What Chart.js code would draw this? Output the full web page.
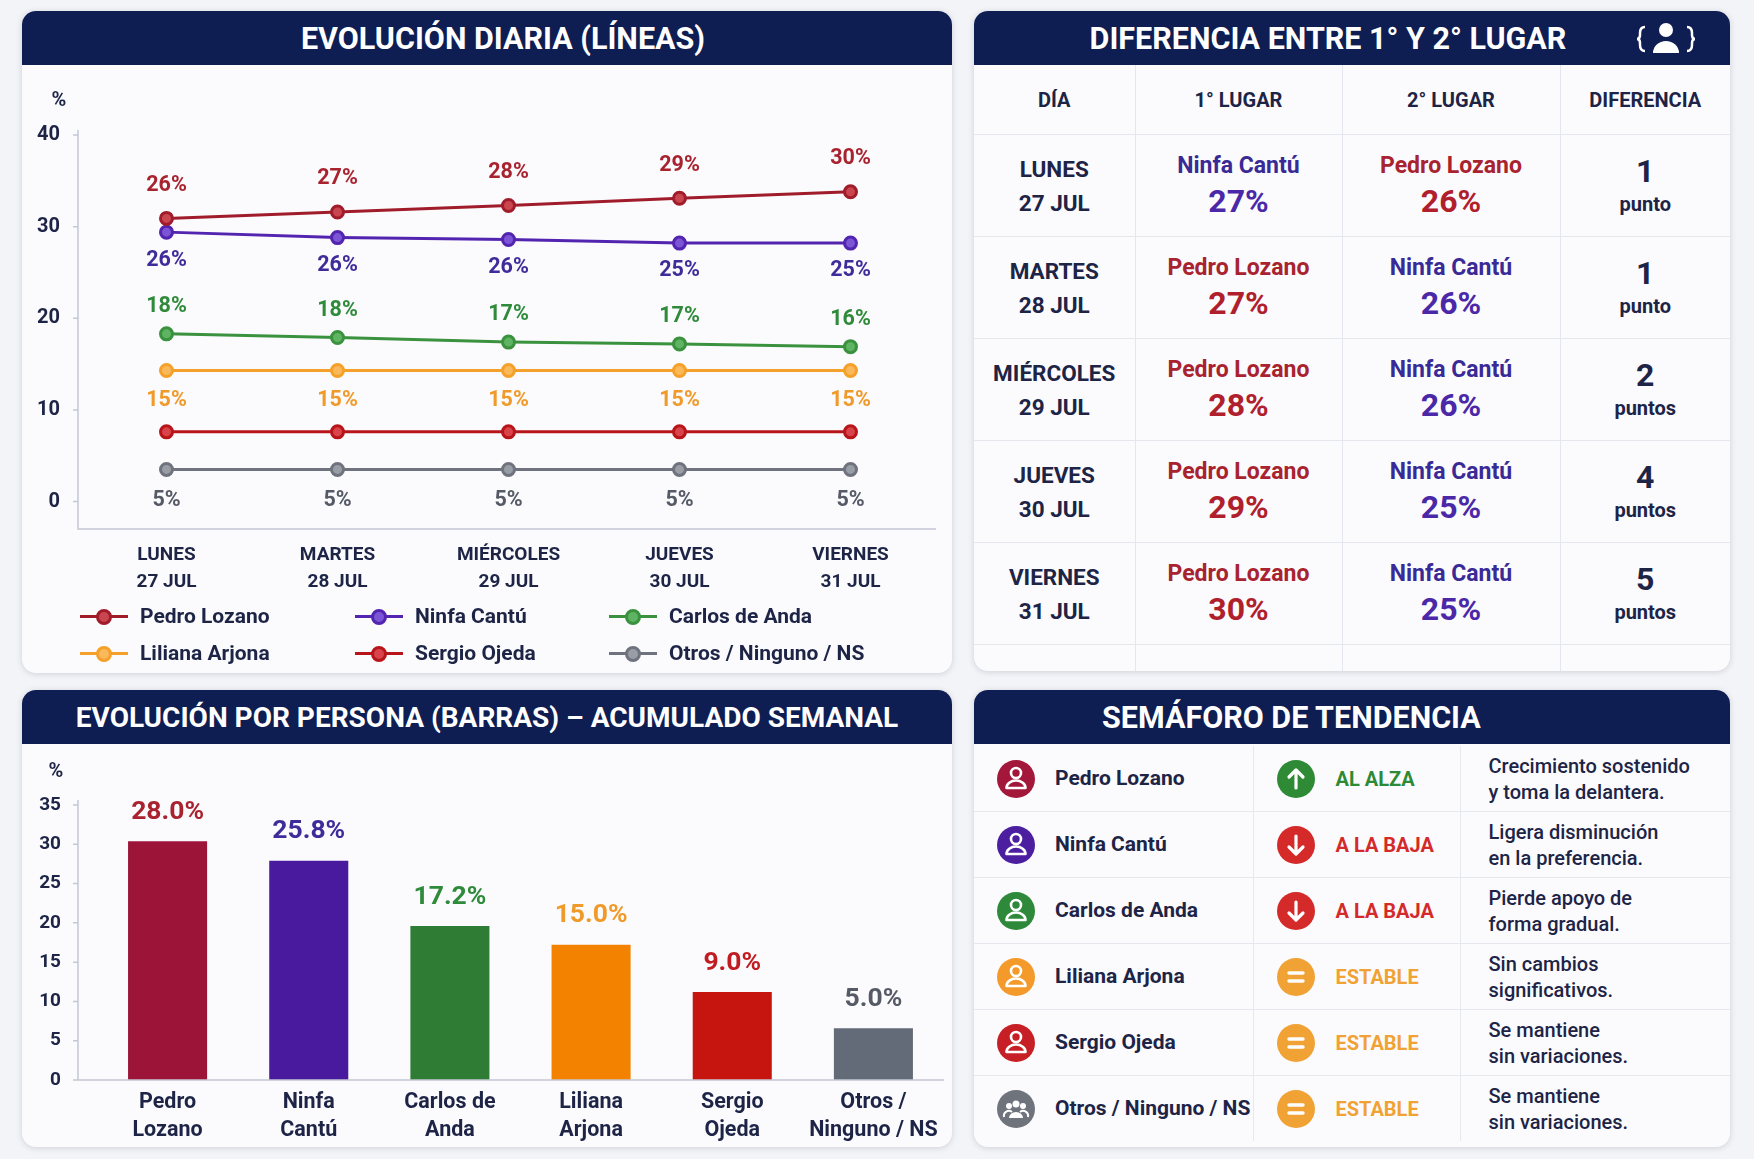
<!DOCTYPE html>
<html>
<head>
<meta charset="utf-8">
<script src="https://cdn.jsdelivr.net/npm/chart.js"></script>
<style>
body{margin:0;width:1754px;height:1159px;background:#f3f4f7;font-family:Roboto,'Open Sans',sans-serif;color:#1d2446;position:relative;overflow:hidden}
.panel{position:absolute;background:#fbfbfd;border-radius:14px;box-shadow:0 1px 6px rgba(20,30,70,.16);overflow:hidden}
.head{height:54px;background:#0e1d52;color:#fff;font-weight:700;font-size:30.5px;line-height:56px;text-align:center;white-space:nowrap}
.cv{position:absolute}
#legend{position:absolute;left:58px;top:592px;width:880px;height:80px}
.lg{position:absolute;font-size:21px;font-weight:700;color:#1d2446;white-space:nowrap;line-height:24px}
.lg i{position:absolute;top:11px;height:3px;width:48px}
.lg b{position:absolute;top:5px;left:16px;width:10px;height:10px;border-radius:50%;border:3px solid}
#tabla,#semaforo{border-collapse:collapse;table-layout:fixed;position:absolute;left:0;top:54px}
#semaforo{top:56px}
#tabla td{border:1.5px solid #e4e7ee;text-align:center;vertical-align:middle;padding:0}
#tabla tr td:first-child{border-left:none}
#tabla tr td:last-child{border-right:none}
#tabla tr:first-child td{border-top:none}
#tabla tr:last-child td{border-bottom:none}
.th td{height:69px;font-size:20px;font-weight:700;color:#1d2446}
.tr td{height:101px}
.dia{font-size:22.5px;font-weight:700;line-height:34px;color:#1d2446}
.nom{font-size:23px;font-weight:700;line-height:30px}
.pct{font-size:32px;font-weight:700;line-height:40px}
.num{font-size:32px;font-weight:700;line-height:36px;color:#1d2446}
.pts{font-size:20px;font-weight:700;line-height:30px;color:#1d2446}
#semaforo td{border:1.5px solid #e6e8ef;height:65px;padding:0;position:relative;vertical-align:middle}
#semaforo tr td:first-child{border-left:none}
#semaforo tr td:last-child{border-right:none}
#semaforo tr:first-child td{border-top:none}
#semaforo tr:last-child td{border-bottom:none}
.ico{position:absolute;left:22px;top:13px}
.sn{position:absolute;left:81px;top:20px;font-size:21px;font-weight:700;color:#1d2446;white-space:nowrap}
.st{position:absolute;left:82px;top:21px;font-size:20px;font-weight:700;white-space:nowrap}
.ds{padding-left:28px;font-size:20px;font-weight:500;line-height:26px;color:#1d2446;white-space:nowrap}
</style>
</head>
<body>

<div class="panel" style="left:22px;top:11px;width:930px;height:662px">
  <div class="head" style="padding-left:32px;box-sizing:border-box">EVOLUCIÓN DIARIA (LÍNEAS)</div>
</div>
<div class="cv" style="left:22px;top:65px;width:930px;height:535px"><canvas id="lineas"></canvas></div>
<div id="legend"></div>

<div class="panel" style="left:974px;top:11px;width:756px;height:660px">
  <div class="head" style="padding-right:48px;box-sizing:border-box">DIFERENCIA ENTRE 1° Y 2° LUGAR</div>
  <svg style="position:absolute;left:660px;top:8px" width="64" height="40" viewBox="0 0 64 40">
    <circle cx="32" cy="11" r="7" fill="#fff"/>
    <path d="M19,34 a13,12 0 0 1 26,0 z" fill="#fff"/>
    <path d="M11,8 q-5,0 -5,6 v2 q0,4 -3,4 q3,0 3,4 v2 q0,6 5,6" fill="none" stroke="#fff" stroke-width="2.5"/>
    <path d="M53,8 q5,0 5,6 v2 q0,4 3,4 q-3,0 -3,4 v2 q0,6 -5,6" fill="none" stroke="#fff" stroke-width="2.5"/>
  </svg>
  <table id="tabla"></table>
</div>

<div class="panel" style="left:22px;top:690px;width:930px;height:457px">
  <div class="head" style="font-size:28px">EVOLUCIÓN POR PERSONA (BARRAS) – ACUMULADO SEMANAL</div>
</div>
<div class="cv" style="left:22px;top:746px;width:930px;height:398px"><canvas id="barras"></canvas></div>

<div class="panel" style="left:974px;top:690px;width:756px;height:457px">
  <div class="head" style="text-align:left;padding-left:128px">SEMÁFORO DE TENDENCIA</div>
  <table id="semaforo"></table>
</div>

<script>
// datos
var dias = [['LUNES','27 JUL'],['MARTES','28 JUL'],['MIÉRCOLES','29 JUL'],['JUEVES','30 JUL'],['VIERNES','31 JUL']];
var personas = ['Pedro Lozano','Ninfa Cantú','Carlos de Anda','Liliana Arjona','Sergio Ojeda','Otros / Ninguno / NS'];
var lineTicks = [0,10,20,30,40];

var pedroLozano   = [30.9,31.6,32.3,33.1,33.8];
var ninfaCantu    = [29.4,28.8,28.6,28.2,28.2];
var carlosDeAnda  = [18.3,17.9,17.4,17.2,16.9];
var lilianaArjona = [14.3,14.3,14.3,14.3,14.3];
var sergioOjeda   = [7.6,7.6,7.6,7.6,7.6];
var otrosNS       = [3.5,3.5,3.5,3.5,3.5];

var pedroTags   = ['26%','27%','28%','29%','30%'];
var ninfaTags   = ['26%','26%','26%','25%','25%'];
var carlosTags  = ['18%','18%','17%','17%','16%'];
var lilianaTags = ['15%','15%','15%','15%','15%'];
var otrosTags   = ['5%','5%','5%','5%','5%'];

var barLabels = [['Pedro','Lozano'],['Ninfa','Cantú'],['Carlos de','Anda'],['Liliana','Arjona'],['Sergio','Ojeda'],['Otros /','Ninguno / NS']];
var barValues = [30.4,27.9,19.6,17.2,11.2,6.6];
var barTags   = ['28.0%','25.8%','17.2%','15.0%','9.0%','5.0%'];
var barTicks  = [0,5,10,15,20,25,30,35];

var primerNombre  = ['Ninfa Cantú','Pedro Lozano','Pedro Lozano','Pedro Lozano','Pedro Lozano'];
var primerPct     = [27,27,28,29,30];
var segundoNombre = ['Pedro Lozano','Ninfa Cantú','Ninfa Cantú','Ninfa Cantú','Ninfa Cantú'];
var segundoPct    = [26,26,26,25,25];
var diferencia    = [1,1,2,4,5];

var tendencias = ['AL ALZA','A LA BAJA','A LA BAJA','ESTABLE','ESTABLE','ESTABLE'];
var notas = [['Crecimiento sostenido','y toma la delantera.'],['Ligera disminución','en la preferencia.'],
  ['Pierde apoyo de','forma gradual.'],['Sin cambios','significativos.'],['Se mantiene','sin variaciones.'],['Se mantiene','sin variaciones.']];

// colores
var lineColors = ['#a01c2a','#5224b0','#3a923f','#f5a028','#b8151b','#6f737d'];
var pointFills = ['#c9454f','#7c55d6','#5fb463','#f9b85a','#d84449','#999da6'];
var barColors  = ['#9c1539','#4a1a9e','#2f7d35','#f28200','#c6140f','#646b78'];
var tagColors  = ['#a8232f','#3f2b9a','#2f8a3a','#f09a2a','#c01c22','#555a66'];
var iconColors = ['#a3183a','#4b1fa0','#2e8a3a','#f39a2b','#c62026','#6f737c'];
var nombreColor = {'Pedro Lozano':'#a8232f','Ninfa Cantú':'#3a2a96'};
var pctColor = {'Pedro Lozano':'#b0202c','Ninfa Cantú':'#4a28a8'};
var estadoColor = {'AL ALZA':'#2f8a35','A LA BAJA':'#d42a2a','ESTABLE':'#f0a234'};
var NAVY = '#1d2446';

var tagsPlugin = {
  id: 'tags',
  afterDatasetsDraw: function(chart) {
    var ctx = chart.ctx;
    chart.data.datasets.forEach(function(ds, i) {
      if (!ds.tags) return;
      var meta = chart.getDatasetMeta(i);
      ctx.save();
      ctx.font = ds.tagFont;
      ctx.textAlign = 'center';
      ctx.textBaseline = 'middle';
      meta.data.forEach(function(el, j) {
        ctx.fillStyle = Array.isArray(ds.tagColor) ? ds.tagColor[j] : ds.tagColor;
        ctx.fillText(ds.tags[j], el.x, el.y + ds.tagDy);
      });
      ctx.restore();
    });
    ctx.save();
    ctx.font = 'bold 20px Roboto';
    ctx.fillStyle = NAVY;
    ctx.textAlign = 'center';
    ctx.fillText('%', chart.options.pctX, chart.options.pctY);
    ctx.restore();
  }
};

// ejes dibujados un poco a la izquierda del area de datos
function axesPlugin(ticks, gap) {
  return {
    id: 'axes',
    afterDraw: function(chart) {
      var ctx = chart.ctx, a = chart.chartArea, y = chart.scales.y;
      var x0 = a.left - gap;
      ctx.save();
      ctx.strokeStyle = '#c3c8d4';
      ctx.lineWidth = 1.5;
      ctx.beginPath();
      ctx.moveTo(x0, y.getPixelForValue(ticks[ticks.length - 1]) - 5);
      ctx.lineTo(x0, a.bottom);
      ctx.lineTo(a.right, a.bottom);
      ticks.forEach(function(v) {
        var py = y.getPixelForValue(v);
        ctx.moveTo(x0 - 5, py); ctx.lineTo(x0, py);
      });
      ctx.stroke();
      ctx.restore();
    }
  };
}

function lineSet(name, data, idx, tags, dy) {
  return {
    label: name, data: data,
    borderColor: lineColors[idx], backgroundColor: pointFills[idx],
    borderWidth: 3, pointRadius: 6, pointBorderWidth: 3,
    pointBorderColor: lineColors[idx], pointBackgroundColor: pointFills[idx],
    tension: 0, tags: tags, tagDy: dy, tagColor: tagColors[idx], tagFont: 'bold 21.5px Roboto'
  };
}

var lineas = new Chart(document.getElementById('lineas'), {
  type: 'line',
  data: {
    labels: dias,
    datasets: [
      lineSet(personas[0], pedroLozano, 0, pedroTags, -33),
      lineSet(personas[1], ninfaCantu, 1, ninfaTags, 28),
      lineSet(personas[2], carlosDeAnda, 2, carlosTags, -27),
      lineSet(personas[3], lilianaArjona, 3, lilianaTags, 30),
      lineSet(personas[4], sergioOjeda, 4, null, 0),
      lineSet(personas[5], otrosNS, 5, otrosTags, 31)
    ]
  },
  options: {
    animation: false, responsive: true, maintainAspectRatio: false,
    pctX: 37, pctY: 41,
    layout: { padding: { top: 70, right: 16, left: 0, bottom: 0 } },
    plugins: { legend: { display: false }, tooltip: { enabled: false } },
    scales: {
      x: {
        offset: true,
        grid: { display: false },
        border: { display: false },
        ticks: { color: NAVY, font: { family: 'Roboto', size: 19, weight: 'bold', lineHeight: 1.4 }, padding: 5, maxRotation: 0 },
        afterFit: function(s) { s.height = 71; }
      },
      y: {
        min: -3, max: 40,
        afterBuildTicks: function(s) { s.ticks = lineTicks.map(function(v) { return { value: v }; }); },
        grid: { display: false },
        border: { display: false },
        ticks: { color: NAVY, font: { family: 'Roboto', size: 20, weight: 'bold' }, padding: 13 },
        afterFit: function(s) { s.width = 59; }
      }
    }
  },
  plugins: [tagsPlugin, axesPlugin(lineTicks, 3)]
});

// leyenda en 3 columnas a partir de los datasets
(function() {
  var cols = [22, 297, 551], rows = [12, 49];
  var html = '';
  lineas.data.datasets.forEach(function(ds, i) {
    var x = cols[i % 3], y = rows[Math.floor(i / 3)];
    html += '<div class="lg" style="left:' + x + 'px;top:' + y + 'px">' +
      '<i style="background:' + ds.borderColor + '"></i>' +
      '<b style="background:' + ds.pointBackgroundColor + ';border-color:' + ds.borderColor + '"></b>' +
      '<span style="margin-left:60px">' + ds.label + '</span></div>';
  });
  document.getElementById('legend').innerHTML = html;
})();

new Chart(document.getElementById('barras'), {
  type: 'bar',
  data: {
    labels: barLabels,
    datasets: [{
      data: barValues, backgroundColor: barColors,
      barPercentage: 0.56, categoryPercentage: 1,
      tags: barTags, tagDy: -29, tagColor: tagColors, tagFont: 'bold 26.5px Roboto'
    }]
  },
  options: {
    animation: false, responsive: true, maintainAspectRatio: false,
    pctX: 34, pctY: 31,
    layout: { padding: { top: 59, right: 8, left: 0, bottom: 0 } },
    plugins: { legend: { display: false }, tooltip: { enabled: false } },
    scales: {
      x: {
        grid: { display: false },
        border: { display: false },
        ticks: { color: NAVY, font: { family: 'Roboto', size: 21.5, weight: 'bold', lineHeight: 1.3 }, padding: 1, maxRotation: 0 },
        afterFit: function(s) { s.height = 64; }
      },
      y: {
        min: 0, max: 35,
        afterBuildTicks: function(s) { s.ticks = barTicks.map(function(v) { return { value: v }; }); },
        grid: { display: false },
        border: { display: false },
        ticks: { color: NAVY, font: { family: 'Roboto', size: 19, weight: 'bold' }, padding: 28 },
        afterFit: function(s) { s.width = 75; }
      }
    }
  },
  plugins: [tagsPlugin, axesPlugin(barTicks, 19)]
});

// tabla diferencia
(function() {
  var html = '<colgroup><col style="width:161px"><col style="width:207px"><col style="width:218px"><col style="width:170px"></colgroup>';
  html += '<tr class="th"><td>DÍA</td><td>1° LUGAR</td><td>2° LUGAR</td><td>DIFERENCIA</td></tr>';
  for (var i = 0; i < dias.length; i++) {
    html += '<tr class="tr">' +
      '<td><div class="dia">' + dias[i][0] + '<br>' + dias[i][1] + '</div></td>' +
      '<td><div class="nom" style="color:' + nombreColor[primerNombre[i]] + '">' + primerNombre[i] + '</div>' +
      '<div class="pct" style="color:' + pctColor[primerNombre[i]] + '">' + primerPct[i] + '%</div></td>' +
      '<td><div class="nom" style="color:' + nombreColor[segundoNombre[i]] + '">' + segundoNombre[i] + '</div>' +
      '<div class="pct" style="color:' + pctColor[segundoNombre[i]] + '">' + segundoPct[i] + '%</div></td>' +
      '<td><div class="num">' + diferencia[i] + '</div><div class="pts">' + (diferencia[i] === 1 ? 'punto' : 'puntos') + '</div></td></tr>';
  }
  html += '<tr><td style="height:28px"></td><td></td><td></td><td></td></tr>';
  document.getElementById('tabla').innerHTML = html;
})();

// semaforo
function personaIcon(c, grupo) {
  var inner = grupo
    ? '<circle cx="20" cy="15" r="3.5" fill="#fff"/><circle cx="13" cy="17" r="3" fill="#fff"/><circle cx="27" cy="17" r="3" fill="#fff"/>' +
      '<path d="M13,29 a7,6 0 0 1 14,0 z" fill="#fff"/><path d="M8,28 a5,5 0 0 1 8,-5" fill="none" stroke="#fff" stroke-width="2"/><path d="M32,28 a5,5 0 0 0 -8,-5" fill="none" stroke="#fff" stroke-width="2"/>'
    : '<circle cx="20" cy="14" r="5" fill="none" stroke="#fff" stroke-width="2.6"/>' +
      '<path d="M10.5,29 a9.5,7.5 0 0 1 19,0 z" fill="none" stroke="#fff" stroke-width="2.6" stroke-linejoin="round"/>';
  return '<svg class="ico" width="40" height="40" viewBox="0 0 40 40"><circle cx="20" cy="20" r="19" fill="' + c + '"/>' + inner + '</svg>';
}
function estadoIcon(t) {
  var c = estadoColor[t], inner;
  if (t === 'AL ALZA') inner = '<path d="M20,29 V12 M13,18 L20,11 L27,18" fill="none" stroke="#fff" stroke-width="3.2" stroke-linecap="round" stroke-linejoin="round"/>';
  else if (t === 'A LA BAJA') inner = '<path d="M20,11 V28 M13,22 L20,29 L27,22" fill="none" stroke="#fff" stroke-width="3.2" stroke-linecap="round" stroke-linejoin="round"/>';
  else inner = '<path d="M13,16 H27 M13,24 H27" stroke="#fff" stroke-width="3.4" stroke-linecap="round"/>';
  return '<svg class="ico" width="40" height="40" viewBox="0 0 40 40"><circle cx="20" cy="20" r="19" fill="' + c + '"/>' + inner + '</svg>';
}
(function() {
  var html = '<colgroup><col style="width:279px"><col style="width:207px"><col style="width:270px"></colgroup>';
  for (var i = 0; i < personas.length; i++) {
    html += '<tr><td>' + personaIcon(iconColors[i], i === 5) + '<div class="sn">' + personas[i] + '</div></td>' +
      '<td>' + estadoIcon(tendencias[i]) + '<div class="st" style="color:' + estadoColor[tendencias[i]] + '">' + tendencias[i] + '</div></td>' +
      '<td><div class="ds">' + notas[i][0] + '<br>' + notas[i][1] + '</div></td></tr>';
  }
  document.getElementById('semaforo').innerHTML = html;
})();
</script>
</body>
</html>
